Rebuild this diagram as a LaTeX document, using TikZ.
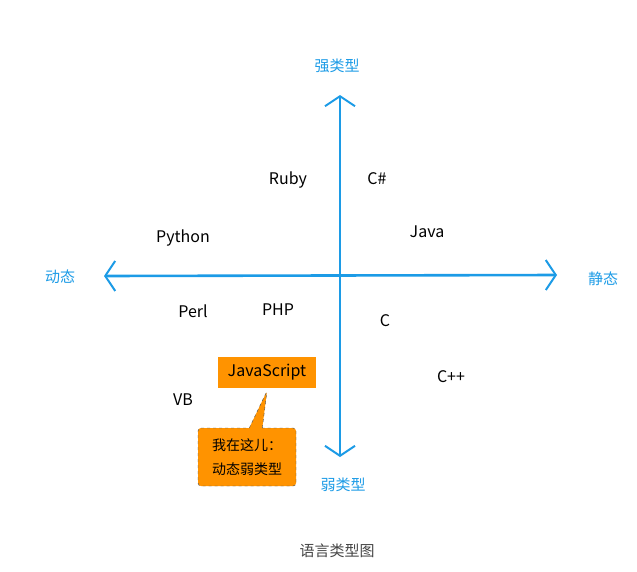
\documentclass[tikz,border=0pt]{standalone}
\usepackage{fontspec}
\setmainfont{Noto Sans CJK SC}
\usetikzlibrary{arrows.meta,shapes.callouts}
\definecolor{axisblue}{HTML}{1C9BE6}
\definecolor{jsorange}{HTML}{FF9300}
\definecolor{capgray}{HTML}{444444}
\begin{document}
\begin{tikzpicture}[x=1pt,y=-1pt]
        \tikzstyle{every node}=[inner sep=2pt]
        \tikzstyle{axislabel}=[text=axisblue,font=\fontsize{15}{17}\selectfont]
        \tikzstyle{lang}=[font=\fontsize{16}{18}\selectfont]
        \tikzstyle{axisline}=[draw=axisblue,line width=2.6pt,
          {Straight Barb[length=10pt,width=30pt,line width=2pt]}-{Straight Barb[length=10pt,width=30pt,line width=2pt]}]
        \useasboundingbox (0,0) rectangle (637,571);
        % axes
        \coordinate (top) at (340,95);
        \coordinate (bottom) at (340,457);
        \coordinate (left) at (104,276);
        \coordinate (right) at (557,275);
        \draw[axisline] (bottom) -- (top);
        \draw[axisline] (left) -- (right);
        \node[axislabel] (strong) at (337,66) {强类型};
        \node[axislabel] (weak) at (343,485) {弱类型};
        \node[axislabel] (dynamic) at (60,277) {动态};
        \node[axislabel] (static) at (603,279) {静态};
        % languages
        \node[lang] (ruby) at (288,180) {Ruby};
        \node[lang] (csharp) at (377,179) {C\#};
        \node[lang] (python) at (183,238) {Python};
        \node[lang] (java) at (427,232) {Java};
        \node[lang] (perl) at (193,311) {Perl};
        \node[lang] (php) at (278,310) {PHP};
        \node[lang] (c) at (385,321) {C};
        \node[lang] (cpp) at (451,377) {C++};
        \node[lang] (vb) at (183,400) {VB};
        \node[lang,fill=jsorange,minimum width=98pt,minimum height=31pt] (js) at (267,372) {JavaScript};
        % callout
        \node[rectangle callout,draw=black!70,dashed,fill=jsorange,rounded corners=3pt,
          minimum width=98pt,minimum height=58pt,align=center,
          font=\fontsize{14}{24}\selectfont,
          callout absolute pointer={(267,391)},callout pointer width=13pt] (here) at (247,457)
          {我在这儿：\\动态弱类型};
        \node[text=capgray,font=\fontsize{15}{17}\selectfont] (caption) at (337,551) {语言类型图};
\end{tikzpicture}
\end{document}
